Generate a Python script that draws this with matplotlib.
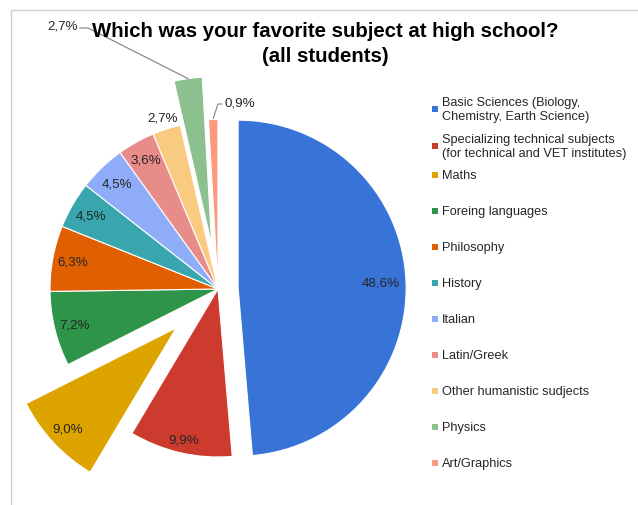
import numpy as np
import matplotlib
matplotlib.use('Agg')
import matplotlib.pyplot as plt
from matplotlib.patches import Rectangle

plt.rcParams['font.family'] = ['Liberation Sans', 'DejaVu Sans']

subjects = ['Basic Sciences (Biology,\nChemistry, Earth Science)',
            'Specializing technical subjects\n(for technical and VET institutes)',
            'Maths', 'Foreing languages', 'Philosophy', 'History', 'Italian',
            'Latin/Greek', 'Other humanistic sudjects', 'Physics', 'Art/Graphics']
shares = [48.6, 9.9, 9.0, 7.2, 6.3, 4.5, 4.5, 3.6, 2.7, 2.7, 0.9]
pct_labels = ['48,6%', '9,9%', '9,0%', '7,2%', '6,3%', '4,5%', '4,5%',
              '3,6%', '2,7%', '2,7%', '0,9%']
colors = ['#3874D8', '#CD3A2E', '#DDA400', '#2E9449', '#E05F00', '#39A5AD',
          '#8EACF7', '#E88C89', '#F8CB80', '#8CC08F', '#FD9A7E']
explode = [0.12, 0, 0.34, 0, 0, 0, 0, 0, 0, 0.265, 0.01]

W, H = 638, 506
fig = plt.figure(figsize=(W / 100, H / 100), dpi=100)
ax = fig.add_axes([0, 0, 1, 1])

cx, cy, R = 218, H - 290, 168
# pie's explode offset is in data units, so scale by the radius
wedges, _ = ax.pie(shares, colors=colors, explode=[e * R for e in explode],
                   startangle=90, counterclock=False, center=(cx, cy), radius=R,
                   wedgeprops=dict(edgecolor='white', linewidth=0.8))
ax.set_xlim(0, W)
ax.set_ylim(0, H)
ax.set_aspect('equal')
ax.axis('off')

# percentage labels inside the slices
dists = [0.85, 0.92, 0.88, 0.88, 0.88, 0.87, 0.87, 0.88, 1.07, None, None]
for w, lab, d in zip(wedges, pct_labels, dists):
    if d is None:
        continue
    mid = np.deg2rad((w.theta1 + w.theta2) / 2)
    x = w.center[0] + d * w.r * np.cos(mid)
    y = w.center[1] + d * w.r * np.sin(mid)
    ax.text(x, y, lab, ha='center', va='center', fontsize=9.6, color='#262626')

# labels with leader lines for Physics and Art/Graphics
w = wedges[9]
mid = np.deg2rad((w.theta1 + w.theta2) / 2)
px, py = w.center[0] + w.r * np.cos(mid), w.center[1] + w.r * np.sin(mid)
lx, ly = 63, H - 26
ax.plot([lx + 17, lx + 25, px], [ly - 3, ly - 3, py], color='#7f7f7f', lw=0.8)
ax.text(lx, ly, pct_labels[9], ha='center', va='center', fontsize=9.6, color='#262626')

w = wedges[10]
mid = np.deg2rad((w.theta1 + w.theta2) / 2)
px, py = w.center[0] + w.r * np.cos(mid), w.center[1] + w.r * np.sin(mid)
lx, ly = 240, H - 103
ax.plot([lx - 18, lx - 22, px], [ly - 2, ly - 2, py + 1], color='#7f7f7f', lw=0.8)
ax.text(lx, ly, pct_labels[10], ha='center', va='center', fontsize=9.6, color='#262626')

# title
ax.text(325, H - 44, 'Which was your favorite subject at high school?\n(all students)',
        ha='center', va='center', fontsize=14.7, fontweight='bold',
        linespacing=1.35, color='black')

# legend
leg_y = [110, 147] + [176 + 36 * k for k in range(len(subjects) - 2)]
for lab, col, y in zip(subjects, colors, leg_y):
    ax.add_patch(Rectangle((432, H - y - 3), 6, 6, color=col, lw=0))
    ax.text(442, H - y, lab, ha='left', va='center', fontsize=9.2,
            color='#262626', linespacing=1.15)

# chart frame
ax.plot([11, 11, W], [0, H - 11, H - 11], color='#d0d0d0', lw=1)

fig.savefig('out.png', dpi=100, facecolor='white')
